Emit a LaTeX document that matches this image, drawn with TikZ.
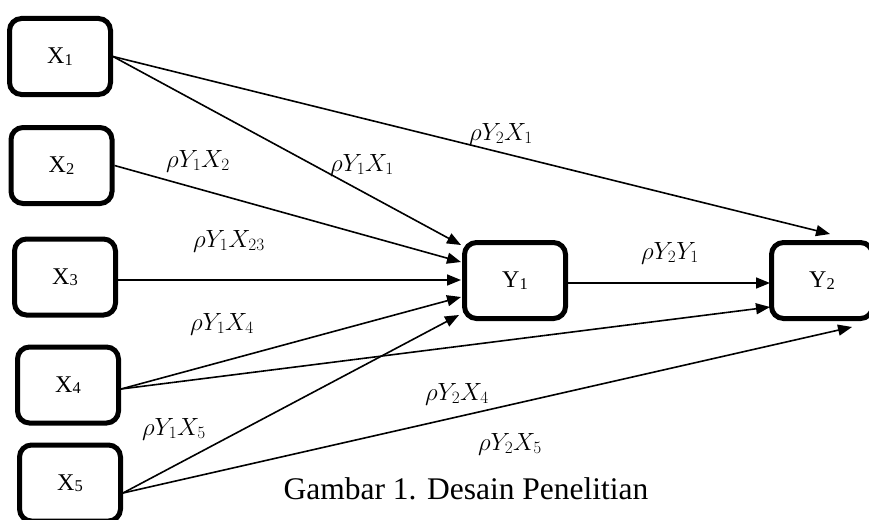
\documentclass[tikz,border=0pt]{standalone}
\usepackage{fontspec}
\setmainfont{Liberation Serif}
\usetikzlibrary{arrows.meta,calc}
\DeclareMathSizes{24}{24}{18.5}{13}
\newcommand\boxsub[1]{\raisebox{-1.5pt}{\fontsize{16.5}{20}\selectfont #1}}
\tikzset{
  box/.style={draw, line width=5pt, rounded corners=12pt, minimum width=101pt,
    minimum height=76pt, inner sep=0pt, font=\fontsize{24}{28}\selectfont},
  conn/.style={line width=1.6pt, -{Triangle[length=14pt,width=11pt]}},
  lab/.style={anchor=base, inner sep=0pt, font=\fontsize{24}{28}\selectfont},
  captext/.style={anchor=base, inner sep=0pt, font=\fontsize{31.5}{36}\selectfont},
}
\begin{document}
\begin{tikzpicture}[x=1pt,y=-1pt]
\clip (0,0) rectangle (869,519);
\fill[white] (0,0) rectangle (869,519);
% boxes
\node[box] (X1) at (60,56.5) {X\boxsub{1}};
\node[box] (X2) at (61.5,165.5) {X\boxsub{2}};
\node[box] (X3) at (65,277) {X\boxsub{3}};
\node[box] (X4) at (68,385) {X\boxsub{4}};
\node[box] (X5) at (70,483) {X\boxsub{5}};
\node[box] (Y1) at (515,280.5) {Y\boxsub{1}};
\node[box] (Y2) at (822,280.5) {Y\boxsub{2}};
% start points
\coordinate (s3) at ($(X3.east)+(0,3)$);
\coordinate (s4) at ($(X4.east)+(0,4)$);
\coordinate (s5) at ($(X5.east)+(0,10)$);
% connectors into Y1
\draw[conn] (X1.east) -- ($(Y1.west)+(-1,-35.5)$);
\draw[conn] (X2.east) -- ($(Y1.west)+(-1,-18.5)$);
\draw[conn] (s3) -- ($(Y1.west)+(-1,-0.5)$);
\draw[conn] (s4) -- ($(Y1.west)+(-1,16.5)$);
\draw[conn] (s5) -- ($(Y1.west)+(-3,34.5)$);
% connectors into Y2
\draw[conn] (X1.east) -- ($(Y2.north)+(8,-6)$);
\draw[conn] ($(Y1.east)+(0,2.5)$) -- ($(Y2.west)+(1,2.5)$);
\draw[conn] (s4) -- ($(Y2.west)+(1,26.5)$);
\draw[conn] (s5) -- ($(Y2.south)+(30,6)$);
% labels
\node[lab] (l12) at (198,167) {$\rho Y_1X_2$};
\node[lab] (l11) at (362,171) {$\rho Y_1X_1$};
\node[lab] (l21) at (501,140) {$\rho Y_2X_1$};
\node[lab] (l123) at (229,247) {$\rho Y_1X_{23}$};
\node[lab] (l2y) at (670,259) {$\rho Y_2Y_1$};
\node[lab] (l14) at (222,330) {$\rho Y_1X_4$};
\node[lab] (l24) at (457,400) {$\rho Y_2X_4$};
\node[lab] (l15) at (174,435) {$\rho Y_1X_5$};
\node[lab] (l25) at (510,450) {$\rho Y_2X_5$};
\node[captext] (caption) at (466,499) {Gambar 1. Desain Penelitian};
\end{tikzpicture}
\end{document}
